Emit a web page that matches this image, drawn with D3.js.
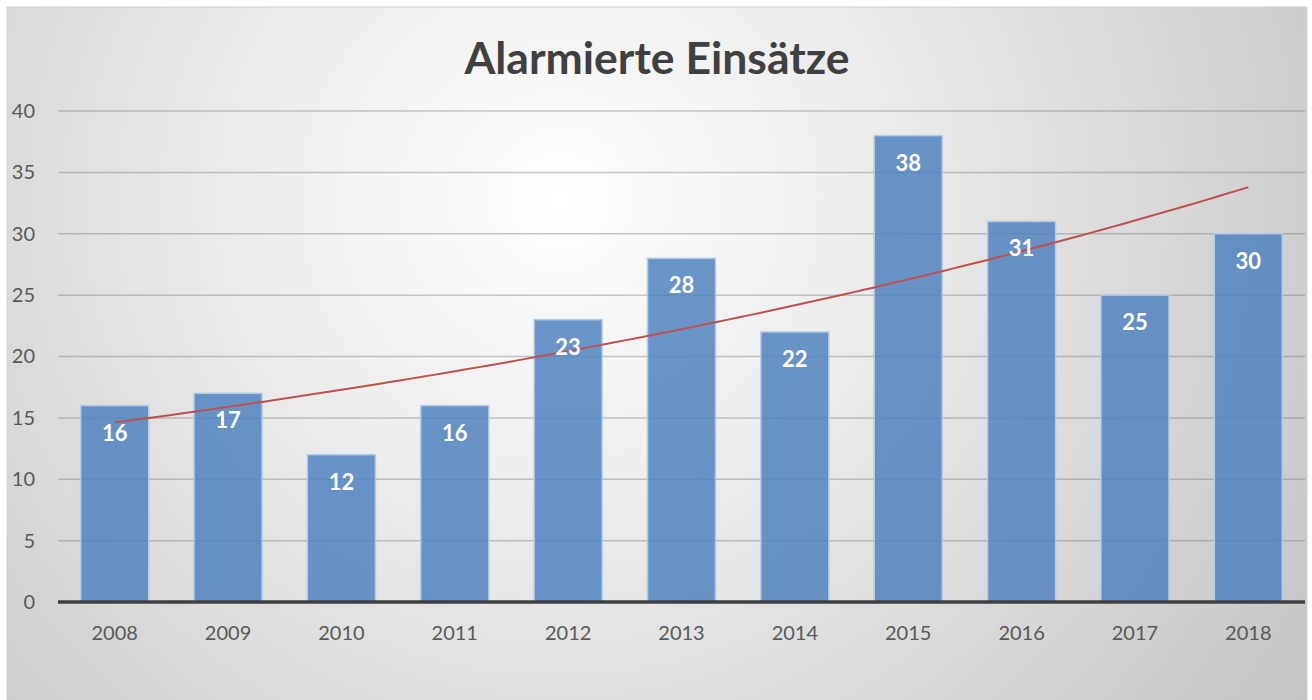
<!DOCTYPE html>
<html lang="de">
<head>
<meta charset="UTF-8">
<title>Alarmierte Einsätze</title>
<script src="https://d3js.org/d3.v7.min.js"></script>
<style>
  body { margin: 0; background: #fff; }
  text { font-family: Lato, "Open Sans", sans-serif; }
</style>
</head>
<body>
<div id="chart"></div>
<script>
// data
const years = ["2008", "2009", "2010", "2011", "2012", "2013", "2014", "2015", "2016", "2017", "2018"];
const einsaetze = [16, 17, 12, 16, 23, 28, 22, 38, 31, 25, 30];
const yTicks = [0, 5, 10, 15, 20, 25, 30, 35, 40];

const W = 1312, H = 700;
const plot = { left: 58, right: 1305, top: 111, bottom: 602 };

const svg = d3.select("#chart").append("svg")
    .attr("width", W).attr("height", H);

// background gradient like the office chart
const defs = svg.append("defs");
const grad = defs.append("radialGradient")
    .attr("id", "bg")
    .attr("gradientUnits", "userSpaceOnUse")
    .attr("cx", 560).attr("cy", 200).attr("r", 900);
grad.append("stop").attr("offset", "0%").attr("stop-color", "#ffffff");
grad.append("stop").attr("offset", "35%").attr("stop-color", "#ececec");
grad.append("stop").attr("offset", "100%").attr("stop-color", "#c4c4c4");

svg.append("rect")
    .attr("x", 7).attr("y", 7)
    .attr("width", 1300).attr("height", H)
    .attr("fill", "url(#bg)")
    .attr("stroke", "#cfcfcf");

const x = d3.scaleBand()
    .domain(years)
    .range([plot.left, plot.right])
    .paddingInner(0.4)
    .paddingOuter(0.2);

const y = d3.scaleLinear()
    .domain([0, 40])
    .range([plot.bottom, plot.top]);

// gridlines
svg.append("g")
    .selectAll("line")
    .data(yTicks.filter(d => d > 0))
    .join("line")
    .attr("x1", plot.left).attr("x2", plot.right)
    .attr("y1", d => y(d)).attr("y2", d => y(d))
    .attr("stroke", "#6e6e6e")
    .attr("stroke-opacity", 0.38)
    .attr("stroke-width", 1.5);

// y axis labels
const yAxis = svg.append("g")
    .attr("transform", "translate(35,0)")
    .call(d3.axisLeft(y).tickValues(yTicks).tickSize(0).tickPadding(0));
yAxis.select(".domain").remove();
yAxis.selectAll("text")
    .attr("font-size", 20)
    .attr("fill", "#595959")
    .style("font-family", "Lato, sans-serif");

// bars
svg.append("g")
    .selectAll("rect")
    .data(einsaetze)
    .join("rect")
    .attr("x", (d, i) => x(years[i]))
    .attr("y", d => y(d))
    .attr("width", x.bandwidth())
    .attr("height", d => y(0) - y(d))
    .attr("fill", "#4f82c0")
    .attr("fill-opacity", 0.85)
    .attr("stroke", "#b4cbe6")
    .attr("stroke-width", 1.5);

// exponential trendline (least squares on ln y, like Excel)
const n = einsaetze.length;
const lnY = einsaetze.map(v => Math.log(v));
const mx = d3.mean(d3.range(n));
const my = d3.mean(lnY);
const b = d3.sum(d3.range(n), i => (i - mx) * (lnY[i] - my)) / d3.sum(d3.range(n), i => (i - mx) * (i - mx));
const a = my - b * mx;
const trend = d3.range(0, n - 1 + 0.001, 0.1).map(t => ({ t, v: Math.exp(a + b * t) }));
const xc = t => x(years[0]) + x.bandwidth() / 2 + t * x.step();

svg.append("path")
    .datum(trend)
    .attr("fill", "none")
    .attr("stroke", "#c0504d")
    .attr("stroke-width", 2)
    .attr("d", d3.line().x(d => xc(d.t)).y(d => y(d.v)));

// value labels
svg.append("g")
    .selectAll("text")
    .data(einsaetze)
    .join("text")
    .attr("x", (d, i) => x(years[i]) + x.bandwidth() / 2)
    .attr("y", d => y(d) + 35)
    .attr("text-anchor", "middle")
    .attr("font-size", 22)
    .attr("font-weight", "bold")
    .attr("fill", "#ffffff")
    .text(d => d);

// x axis line
svg.append("line")
    .attr("x1", plot.left).attr("x2", plot.right)
    .attr("y1", y(0)).attr("y2", y(0))
    .attr("stroke", "#404040")
    .attr("stroke-width", 3.5);

// x labels
const xAxis = svg.append("g")
    .attr("transform", `translate(0,${y(0)})`)
    .call(d3.axisBottom(x).tickSize(0).tickPadding(24));
xAxis.select(".domain").remove();
xAxis.selectAll("text")
    .attr("font-size", 20)
    .attr("fill", "#595959")
    .style("font-family", "Lato, sans-serif");

// title
svg.append("text")
    .attr("x", 657)
    .attr("y", 74)
    .attr("text-anchor", "middle")
    .attr("font-size", 44.5)
    .attr("font-weight", "bold")
    .attr("fill", "#404040")
    .text("Alarmierte Einsätze");
</script>
</body>
</html>
